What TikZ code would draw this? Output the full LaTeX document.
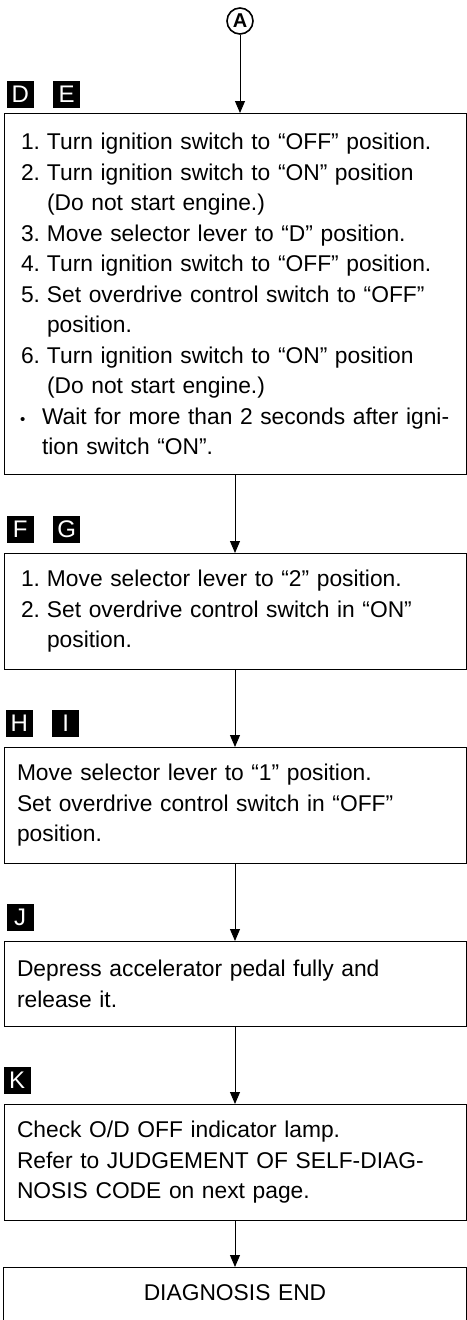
\documentclass[tikz,border=0pt]{standalone}
\usepackage{fontspec}
\setmainfont{Liberation Sans}
\usetikzlibrary{arrows.meta,positioning}
\newcommand{\stepno}[1]{\hspace*{4pt}\makebox[26pt][l]{#1}}
\newcommand{\hangon}{\hspace*{30pt}}
\newcommand{\dotitem}{\hspace*{3pt}\makebox[22pt][l]{\fontsize{15}{15}\selectfont\textbullet}}
\newcommand{\dothang}{\hspace*{25pt}}

\begin{document}
\begin{tikzpicture}[x=1pt,y=1pt,
  stepbox/.style={draw,line width=1pt,align=left,anchor=north west,text width=436pt,inner xsep=13pt,inner ysep=0pt,font=\fontsize{22.8}{30.5}\selectfont},
  tag/.style={fill=black,text=white,minimum size=27pt,inner sep=0pt,font=\fontsize{24}{24}\selectfont},
  arr/.style={-{Triangle[length=12pt,width=10pt]},line width=0.9pt}]
\useasboundingbox (0,0) rectangle (466,-1320);
\node[circle,draw,line width=1.6pt,minimum size=26pt,inner sep=0pt,font=\bfseries\fontsize{20}{20}\selectfont] (A) at (240,-21) {A};
\node[stepbox,minimum height=361pt] (b1) at (3.5,-113) {\stepno{1.}Turn ignition switch to “OFF” position.\\
\stepno{2.}Turn ignition switch to “ON” position\\
\hangon(Do not start engine.)\\
\stepno{3.}Move selector lever to “D” position.\\
\stepno{4.}Turn ignition switch to “OFF” position.\\
\stepno{5.}Set overdrive control switch to “OFF”\\
\hangon position.\\
\stepno{6.}Turn ignition switch to “ON” position\\
\hangon(Do not start engine.)\\
\dotitem Wait for more than 2 seconds after igni-\\
\dothang tion switch “ON”.};
\node[stepbox,minimum height=116pt,below=78pt of b1] (b2) {\stepno{1.}Move selector lever to “2” position.\\
\stepno{2.}Set overdrive control switch in “ON”\\
\hangon position.};
\node[stepbox,minimum height=116pt,below=77pt of b2] (b3) {Move selector lever to “1” position.\\Set overdrive control switch in “OFF”\\position.};
\node[stepbox,minimum height=85pt,below=77pt of b3] (b4) {Depress accelerator pedal fully and\\release it.};
\node[stepbox,minimum height=116pt,below=77pt of b4] (b5) {Check O/D OFF indicator lamp.\\Refer to JUDGEMENT OF SELF-DIAG-\\NOSIS CODE on next page.};
\node[stepbox,draw=none,align=center,minimum height=50pt,below=46pt of b5] (endbox) {DIAGNOSIS END};
\draw[line width=1pt] (endbox.south west) ++(0,-6) -- (endbox.north west) -- (endbox.north east) -- ++(0,-56);
\node[tag,above right=5pt and 3pt of b1.north west] (tD) {D};
\node[tag,right=19pt of tD] (tE) {E};
\node[tag,above right=10pt and 3pt of b2.north west] (tF) {F};
\node[tag,right=19pt of tF] (tG) {G};
\node[tag,above right=10pt and 2pt of b3.north west] (tH) {H};
\node[tag,right=19pt of tH] (tI) {I};
\node[tag,above right=10pt and 3pt of b4.north west] (tJ) {J};
\node[tag,above right=10pt and 0pt of b5.north west] (tK) {K};
\draw[arr] (A) -- (A |- b1.north);
\draw[arr] (b1) -- (b2);
\draw[arr] (b2) -- (b3);
\draw[arr] (b3) -- (b4);
\draw[arr] (b4) -- (b5);
\draw[arr] (b5) -- (endbox);
\end{tikzpicture}
\end{document}
